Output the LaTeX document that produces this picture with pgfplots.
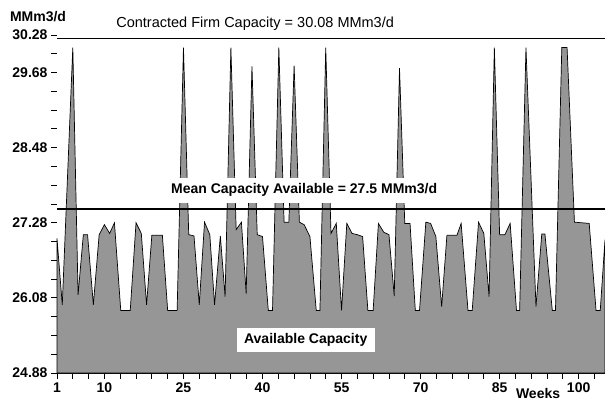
\documentclass[border=0pt]{standalone}
\usepackage{pgfplots}
\pgfplotsset{compat=1.18}
\usepackage{fontspec}
\setmainfont{Liberation Sans}
\definecolor{areagray}{RGB}{150,150,150}
\newcommand{\lblfont}{\fontsize{14bp}{16bp}\selectfont\bfseries}

\begin{document}
\begin{tikzpicture}
\useasboundingbox (-57bp,-28bp) rectangle (548bp,373bp);
\begin{axis}[
    scale only axis, width=548bp, height=338bp,
    xmin=1, xmax=105, ymin=24.88, ymax=30.28,
    axis x line*=bottom, axis y line*=left,
    axis line style={-},
    y axis line style={draw=none},
    x axis line style={line width=0.8bp},
    xtick={1,10,25,40,55,70,85,100},
    xticklabels={1,10,25,40,55,70,85,100},
    minor xtick={4,7,...,103},
    ytick={24.88,26.08,27.28,28.48,29.68,30.28},
    yticklabels={24.88,26.08,27.28,28.48,29.68,30.28},
    minor ytick={25.18,25.48,25.78,26.38,26.68,26.98,27.58,27.88,28.18,28.78,29.08,29.38,29.98},
    tick align=outside,
    major tick length=6bp, minor tick length=6bp,
    every tick/.style={black, line width=0.8bp},
    /pgf/number format/assume math mode=true,
    ticklabel style={font=\lblfont},
    clip=false,
]

% available capacity, closed down to the axis floor
\addplot[fill=areagray, draw=black, line width=0.7bp] coordinates {
    (1,24.88) (1,27.03) (2,25.97) (4,30.08) (5,26.13) (6,27.09) (6.8,27.09)
    (7.9,25.97) (9,27.09) (10,27.25) (11,27.11) (11.9,27.28) (13.1,25.88)
    (14.9,25.88) (16,27.28) (17,27.11) (18,25.97) (19,27.08) (21,27.08)
    (22,25.88) (23.8,25.88) (25,30.08) (26,27.09) (27,27.07) (28,25.97)
    (29,27.29) (30,27.09) (30.9,25.97) (32,27.07) (32.9,26.10) (34,30.08)
    (35,27.17) (36,27.29) (36.9,26.15) (38,29.78) (39,27.09) (40,27.06)
    (41.1,25.88) (41.9,25.88) (43.1,30.08) (44.1,27.29) (45,27.29) (46,29.79)
    (47,27.29) (47.9,27.25) (49,27.06) (50.2,25.88) (50.9,25.88) (52,30.08)
    (53,27.11) (54,27.27) (55,25.88) (56,27.27) (57,27.11) (58,27.09)
    (59,27.06) (60,25.88) (61,25.88) (62,27.27) (63,27.13) (64,27.09)
    (65,26.11) (66,29.75) (67,27.27) (68,27.27) (69,25.88) (69.8,25.88)
    (71,27.29) (71.9,27.27) (72.9,27.06) (74,25.94) (75,27.08) (76.9,27.08)
    (77.7,27.27) (79,25.88) (79.8,25.88) (81,27.29) (82,27.11) (83,26.10)
    (84,30.08) (85,27.09) (86,27.09) (87,27.27) (88.2,25.88) (88.8,25.88)
    (90,30.08) (91.9,25.94) (93,27.10) (93.6,27.10) (95,25.88) (95.6,25.88)
    (96.8,30.08) (97.8,30.08) (99.2,27.29) (102,27.27) (103.3,25.88)
    (104.1,25.88) (105,27.01) (105,24.88)
} -- cycle;

% contracted firm capacity and mean lines
\addplot[black, line width=1.1bp] coordinates {(1,30.22) (105,30.22)};
\addplot[black, line width=1.1bp] coordinates {(1,27.5) (105,27.5)};

\node[font=\fontsize{14.5bp}{16bp}\selectfont] at (axis cs:38.6,30.46)
    {Contracted Firm Capacity = 30.08 MMm3/d};
\node[fill=white, inner xsep=3bp, inner ysep=6bp, font=\fontsize{14bp}{16bp}\selectfont\bfseries]
    at (axis cs:47.9,27.8) {Mean Capacity Available = 27.5 MMm3/d};
\node[fill=white, inner xsep=7.5bp, inner ysep=5.5bp, font=\lblfont]
    at (axis cs:48.2,25.41) {Available Capacity};
\node[font=\lblfont] at (axis cs:92.3,24.545) {Weeks};
\node[font=\lblfont] at (axis cs:-2.6,30.57) {MMm3/d};
\end{axis}
\end{tikzpicture}
\end{document}
